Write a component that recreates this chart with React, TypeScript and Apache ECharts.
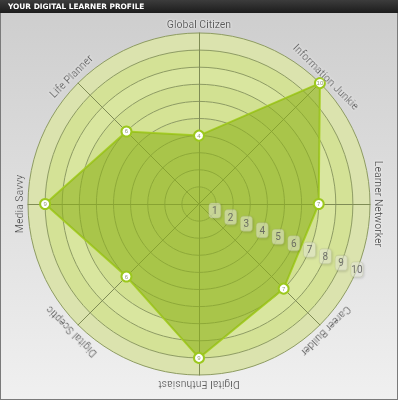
import React, { useEffect, useRef } from "react";
import * as echarts from "echarts";

// Categories in clockwise order starting at the top
const categories = [
  "Global Citizen",
  "Information Junkie",
  "Learner Networker",
  "Career Builder",
  "Digital Enthusiast",
  "Digital Sceptic",
  "Media Savvy",
  "Life Planner",
];
const values = [4, 10, 7, 7, 9, 6, 9, 6];
const scaleTicks = [1, 2, 3, 4, 5, 6, 7, 8, 9, 10];
const title = "YOUR DIGITAL LEARNER PROFILE";
const maxValue = 10;

const W = 398;
const H = 400;
const CX = 199;
const CY = 204;
const R = 171;

export default function App() {
  const ref = useRef<HTMLDivElement>(null);

  useEffect(() => {
    if (!ref.current) return;
    const chart = echarts.init(ref.current, undefined, { renderer: "svg" });

    // ECharts radar goes counterclockwise: reorder
    const ccwIdx = categories.map((_, i) => (i === 0 ? 0 : categories.length - i));
    const indicator = ccwIdx.map((i) => ({ name: categories[i], max: maxValue, min: 0 }));
    const ccwValues = ccwIdx.map((i) => values[i]);

    const nameR = 180;
    const nameTexts = categories.map((name, i) => {
      const th = (i * 2 * Math.PI) / categories.length;
      return {
        type: "text",
        x: CX + nameR * Math.sin(th),
        y: CY - nameR * Math.cos(th),
        rotation: -th,
        z: 10,
        style: {
          text: name,
          fill: "#5a5a5a",
          font: "10.5px 'Liberation Sans Narrow', 'Roboto', sans-serif",
          textAlign: "center",
          textVerticalAlign: "middle",
          textShadowColor: "rgba(255,255,255,0.9)",
          textShadowBlur: 2,
        },
      };
    });

    const ringColors = [
      "#cfdf8c",
      "#d3e292",
      "#cfdf8c",
      "#d3e292",
      "#d0e08e",
      "#d5e395",
      "#d2e192",
      "#d9e69f",
      "#d4e296",
      "#dbe3ae",
    ];

    chart.setOption({
      animation: false,
      graphic: [
        {
          type: "rect",
          shape: { x: 0, y: 0, width: W, height: H },
          z: -10,
          silent: true,
          style: {
            fill: new echarts.graphic.LinearGradient(0, 0, 0, 1, [
              { offset: 0, color: "#cdcdcd" },
              { offset: 1, color: "#f0f0f0" },
            ]),
            stroke: "#7a7a7a",
            lineWidth: 2,
          },
        },
        {
          type: "rect",
          shape: { x: 0, y: 0, width: W, height: 13 },
          z: 10,
          style: {
            fill: new echarts.graphic.LinearGradient(0, 0, 0, 1, [
              { offset: 0, color: "#3c3c3c" },
              { offset: 1, color: "#1c1c1c" },
            ]),
          },
        },
        {
          type: "text",
          x: 8,
          y: 6.5,
          z: 11,
          style: {
            text: title,
            fill: "#ffffff",
            font: "bold 7.4px 'DejaVu Sans', sans-serif",
            textVerticalAlign: "middle",
          },
        },
        ...nameTexts,
      ],
      radar: {
        center: [CX, CY],
        radius: R,
        startAngle: 90,
        shape: "circle",
        splitNumber: 10,
        indicator,
        axisName: { show: false },
        axisLine: { lineStyle: { color: "#7f8c55", width: 1 } },
        splitLine: { lineStyle: { color: "#8e9c62", width: 1 } },
        splitArea: { show: true, areaStyle: { color: ringColors } },
      },
      polar: { center: [CX, CY], radius: R },
      angleAxis: {
        type: "value",
        min: 0,
        max: 360,
        startAngle: 90,
        clockwise: true,
        show: false,
        axisLine: { show: false },
        splitLine: { show: false },
        axisLabel: { show: false },
        axisTick: { show: false },
      },
      radiusAxis: {
        type: "value",
        min: 0,
        max: maxValue,
        show: false,
        axisLine: { show: false },
        splitLine: { show: false },
        axisLabel: { show: false },
        axisTick: { show: false },
      },
      series: [
        {
          type: "radar",
          z: 3,
          symbol: "circle",
          symbolSize: 10,
          lineStyle: { color: "#a8d02a", width: 2 },
          itemStyle: { color: "#ffffff", borderColor: "#9cc81e", borderWidth: 2 },
          areaStyle: { color: "#8db21a", opacity: 0.6 },
          label: {
            show: true,
            position: "inside",
            fontSize: 6,
            color: "#8f9a70",
          },
          data: [{ value: ccwValues, name: "Profile" }],
        },
        {
          type: "scatter",
          coordinateSystem: "polar",
          z: 6,
          symbol: "roundRect",
          symbolSize: [12, 15],
          itemStyle: {
            color: "rgba(238,241,226,0.6)",
            borderColor: "rgba(160,170,130,0.35)",
            borderWidth: 1,
            shadowColor: "rgba(0,0,0,0.3)",
            shadowBlur: 2,
            shadowOffsetX: 1,
            shadowOffsetY: 1,
          },
          label: {
            show: true,
            position: "inside",
            fontSize: 10,
            fontFamily: "'Liberation Sans Narrow', Roboto, sans-serif",
            color: "#555",
            formatter: (p: any) => String(p.value[0]),
          },
          data: scaleTicks.map((t) => [t, 112.5]),
        },
      ],
    });

    return () => chart.dispose();
  }, []);

  return (
    <div
      ref={ref}
      style={{ position: "fixed", left: 0, top: 0, width: W, height: H }}
    />
  );
}
